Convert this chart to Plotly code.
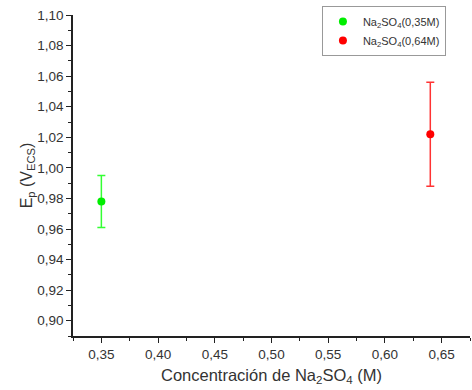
import plotly.graph_objects as go

conc = [0.35, 0.64]
ep = [0.978, 1.022]
err = [0.017, 0.034]
names = ["Na<sub>2</sub>SO<sub>4</sub>(0,35M)", "Na<sub>2</sub>SO<sub>4</sub>(0,64M)"]
colors = ["#00ee00", "#ff0000"]
bar_colors = ["#33ff33", "#ff3333"]

fig = go.Figure()
for i in range(2):
    fig.add_trace(go.Scatter(
        x=[conc[i]], y=[ep[i]], mode="markers", name=names[i],
        marker=dict(color=colors[i], size=8),
        error_y=dict(type="data", array=[err[i]], visible=True,
                     color=bar_colors[i], thickness=1.5, width=4),
    ))

font_family = "Liberation Sans, Arial, sans-serif"
fig.update_layout(
    width=472, height=390,
    margin=dict(l=73, r=2, t=15, b=54),
    paper_bgcolor="white", plot_bgcolor="white",
    separators=",.",
    font=dict(family=font_family, color="#333333", size=11),
    showlegend=True,
    legend=dict(x=0.627, y=1.028, xanchor="left", yanchor="top",
                bordercolor="#999999", borderwidth=1, bgcolor="white",
                font=dict(size=11), tracegroupgap=0, itemwidth=30),
    xaxis=dict(range=[0.325, 0.675], tickvals=[0.35, 0.40, 0.45, 0.50, 0.55, 0.60, 0.65],
               tickformat=".2f", ticks="outside", ticklen=5, tickwidth=1.2, tickcolor="#222",
               showline=True, linecolor="#222", linewidth=1.5, showgrid=False, zeroline=False,
               minor=dict(dtick=0.025, tick0=0.325, ticks="outside", ticklen=3, tickcolor="#222", showgrid=False),
               title=dict(text="Concentración de Na<sub>2</sub>SO<sub>4</sub> (M)", font=dict(size=16.5), standoff=8),
               tickfont=dict(size=13.5)),
    yaxis=dict(range=[0.89, 1.10], tickvals=[0.90, 0.92, 0.94, 0.96, 0.98, 1.00, 1.02, 1.04, 1.06, 1.08, 1.10],
               tickformat=".2f", ticks="outside", ticklen=5, tickwidth=1.2, tickcolor="#222",
               showline=True, linecolor="#222", linewidth=1.5, showgrid=False, zeroline=False,
               minor=dict(dtick=0.01, tick0=0.89, ticks="outside", ticklen=3, tickcolor="#222", showgrid=False),
               title=dict(text="E<sub>p</sub> (V<sub>ECS</sub>)", font=dict(size=16), standoff=1),
               tickfont=dict(size=13.5)),
)
fig.write_html("out.html")
